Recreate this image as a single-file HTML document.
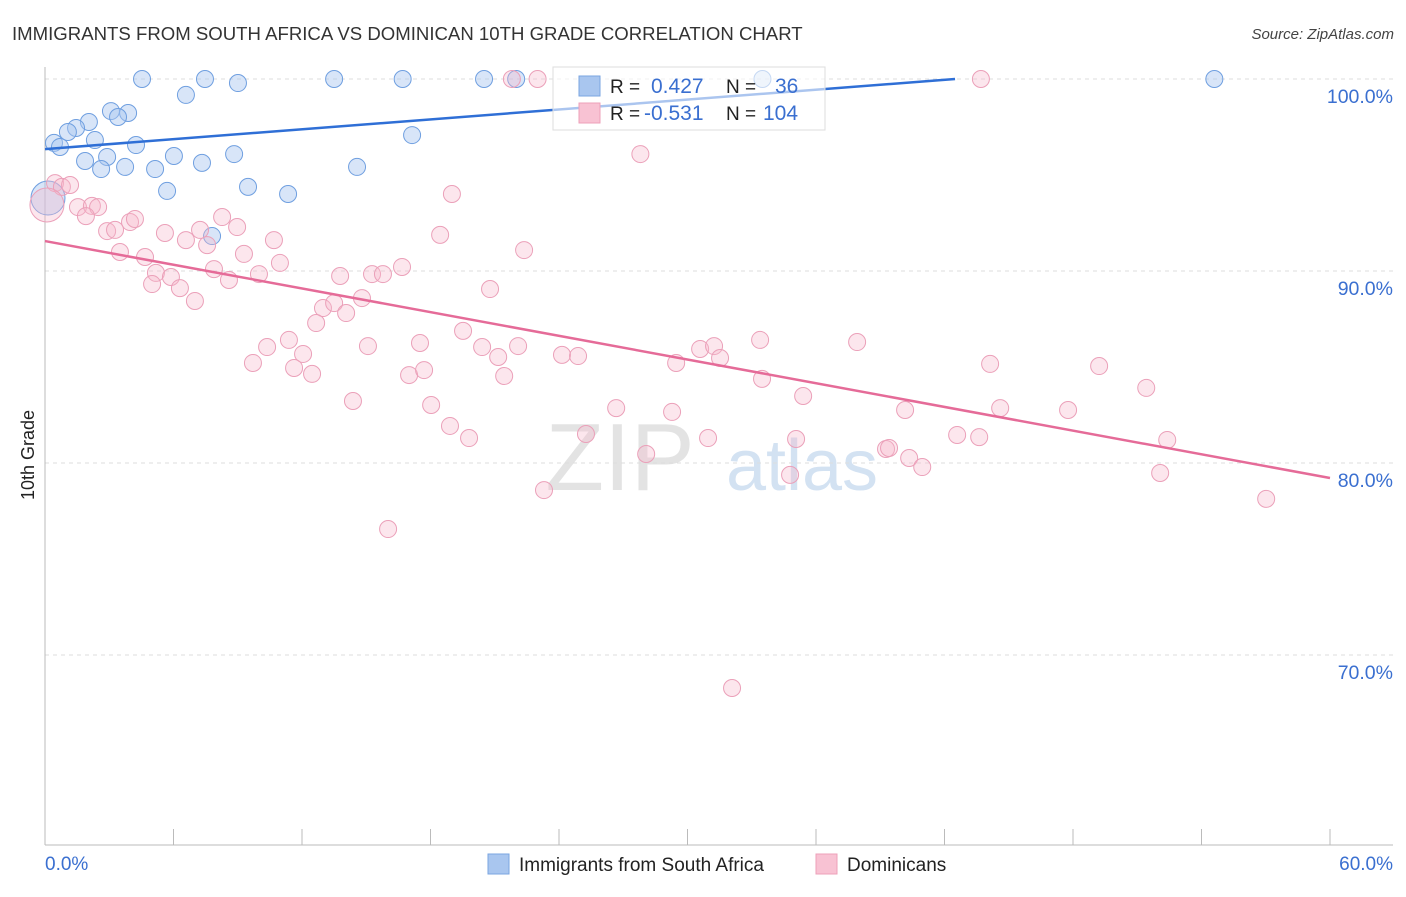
<!DOCTYPE html>
<html><head><meta charset="utf-8"><style>
body{margin:0;background:#fff;font-family:"Liberation Sans",sans-serif;}
svg text{font-family:"Liberation Sans",sans-serif;}
</style></head><body>
<svg id="chart" width="1406" height="892">
<text x="12" y="40" font-size="18.6" fill="#333">IMMIGRANTS FROM SOUTH AFRICA VS DOMINICAN 10TH GRADE CORRELATION CHART</text>
<text x="1394" y="39" font-size="15" fill="#444" font-style="italic" text-anchor="end">Source: ZipAtlas.com</text>
<text x="620" y="490" font-size="96" fill="#ddd" font-family="Liberation Serif" text-anchor="middle" opacity="0.8">ZIP</text>
<text x="802" y="490" font-size="72" fill="#c9dbf0" text-anchor="middle" opacity="0.8">atlas</text>
<g id="grid"></g><g id="axes"></g><g id="pts"></g><g id="lines"></g>
<g>
<rect x="553" y="67" width="272" height="63" fill="#fff" fill-opacity="0.6" stroke="#ddd"/>
<rect x="579" y="76" width="21" height="20" fill="#a9c6ef" stroke="#7aa5e0"/>
<rect x="579" y="103" width="21" height="20" fill="#f8c2d3" stroke="#eea0ba"/>
<text x="610" y="93" font-size="19" fill="#222">R = </text><text x="651" y="93" font-size="21" fill="#3a6fd0">0.427</text>
<text x="726" y="93" font-size="19" fill="#222">N = </text><text x="775" y="93" font-size="21" fill="#3a6fd0">36</text>
<text x="610" y="120" font-size="19" fill="#222">R = </text><text x="644" y="120" font-size="21" fill="#3a6fd0">-0.531</text>
<text x="726" y="120" font-size="19" fill="#222">N = </text><text x="763" y="120" font-size="21" fill="#3a6fd0">104</text>
</g>
<text transform="translate(34,455) rotate(-90)" font-size="18" fill="#222" text-anchor="middle">10th Grade</text>
<text x="45" y="870" font-size="19" fill="#3a6fd0">0.0%</text>
<text x="1393" y="870" font-size="19" fill="#3a6fd0" text-anchor="end">60.0%</text>
<g>
<rect x="488" y="854" width="21" height="20" fill="#a9c6ef" stroke="#7aa5e0"/>
<text x="519" y="871" font-size="19" fill="#222">Immigrants from South Africa</text>
<rect x="816" y="854" width="21" height="20" fill="#f8c2d3" stroke="#eea0ba"/>
<text x="847" y="871" font-size="19" fill="#222">Dominicans</text>
</g>
</svg>
<script>
const yTicks=[100,90,80,70];
const xTicks=[0,6,12,18,24,30,36,42,48,54,60];
const blueX=[4.53,7.47,9.01,13.5,16.7,20.5,22.0,33.5,54.6,6.58,3.08,3.88,3.41,2.05,1.45,1.07,0.42,0.70,2.33,4.25,6.02,8.83,1.87,2.90,7.33,2.62,3.74,5.14,14.57,17.14,5.70,9.48,11.35,7.80,0.14];
const blueY=[100,100,99.79,100,100,100,100,100,100,99.17,98.33,98.23,98.02,97.76,97.45,97.24,96.67,96.46,96.82,96.56,95.99,96.09,95.73,95.94,95.63,95.31,95.42,95.31,95.42,97.08,94.17,94.38,94.01,91.82,93.80];
const pinkX=[21.8,23.0,43.7,27.8,19.0,0.47,0.79,1.17,0.09,1.54,2.19,2.48,1.91,3.97,4.20,2.90,3.27,5.60,7.24,8.27,8.97,6.58,7.57,10.69,22.37,18.45,3.50,4.67,9.29,5.18,5.88,7.89,8.59,9.99,10.97,13.78,15.27,15.78,16.67,5.00,6.30,7.00,12.98,13.50,14.06,14.80,20.78,12.66,19.52,10.37,11.39,12.05,9.71,11.63,12.47,15.08,17.51,20.41,22.09,21.16,24.14,24.89,17.00,17.70,21.44,29.47,30.59,31.24,31.52,33.39,37.92,33.48,44.13,49.22,51.42,35.40,14.38,18.03,26.67,29.28,40.16,44.60,47.77,18.91,19.80,25.26,30.96,35.07,39.27,39.41,42.59,43.62,52.40,40.35,40.96,28.07,34.79,52.07,23.30,57.02,16.02,32.08];
const pinkY=[100,100,100,96.09,94.01,94.58,94.38,94.48,93.44,93.33,93.39,93.33,92.86,92.55,92.71,92.08,92.14,91.98,92.14,92.81,92.29,91.61,91.35,91.61,91.09,91.88,90.99,90.73,90.89,89.90,89.69,90.10,89.53,89.84,90.42,89.74,89.84,89.84,90.21,89.32,89.11,88.44,88.07,88.33,87.81,88.59,89.06,87.29,86.88,86.04,86.41,85.68,85.21,84.95,84.64,86.09,86.25,86.04,86.09,85.52,85.63,85.57,84.58,84.84,84.53,85.21,85.94,86.09,85.47,86.41,86.30,84.38,85.16,85.05,83.91,83.49,83.23,83.02,82.86,82.66,82.76,82.86,82.76,81.93,81.30,81.51,81.30,81.25,80.73,80.78,81.46,81.35,81.20,80.26,79.79,80.47,79.38,79.48,78.59,78.13,76.56,68.28];
const blueTrend=[96.35,0.0859];
const pinkTrend=[91.56,-0.2057];
const NS="http://www.w3.org/2000/svg";
const X=v=>45+v*1285/60, Y=v=>79+(100-v)*19.2;
function mk(tag,attrs,parent){const e=document.createElementNS(NS,tag);for(const k in attrs)e.setAttribute(k,attrs[k]);parent.appendChild(e);return e;}
const grid=document.getElementById('grid'),axes=document.getElementById('axes'),pts=document.getElementById('pts'),lines=document.getElementById('lines');
yTicks.forEach(t=>{
 const l=mk('line',{x1:45,x2:1393,y1:Y(t),y2:Y(t),stroke:'#ddd','stroke-dasharray':'4,4'},grid);
 
 
 const tx=mk('text',{x:1393,y:Y(t)+24,'font-size':19.5,fill:'#3a6fd0','text-anchor':'end'},grid);
 tx.textContent=t.toFixed(1)+'%';
 
 
});
const ax=mk('line',{x1:45,x2:45,y1:67,y2:845,stroke:'#bbb'},axes);


const bx=mk('line',{x1:45,x2:1393,y1:845,y2:845,stroke:'#bbb'},axes);


xTicks.forEach(t=>{
 const l=mk('line',{x1:X(t),x2:X(t),y1:829,y2:845,stroke:'#bbb'},axes);
 
 
});
blueX.forEach((v,i)=>{
 const big=i===blueX.length-1;
 const c=mk('circle',{cx:X(v),cy:Y(blueY[i]),r:big?17:8.5,fill:'#a9c6ef','fill-opacity':0.45,stroke:'#6f9fe0','stroke-width':1},pts);
 
 
});
pinkX.forEach((v,i)=>{
 const big=i===8;
 const c=mk('circle',{cx:X(v),cy:Y(pinkY[i]),r:big?17:8.5,fill:'#f6b6cb','fill-opacity':0.35,stroke:'#eba0b9','stroke-width':1},pts);
 
 
});
const bEnd=Math.min(60,(100-blueTrend[0])/blueTrend[1]);
const bl=mk('line',{x1:X(0),y1:Y(blueTrend[0]),x2:X(bEnd),y2:Y(blueTrend[0]+blueTrend[1]*bEnd),stroke:'#2f6fd6','stroke-width':2.5},lines);


const pl=mk('line',{x1:X(0),y1:Y(pinkTrend[0]),x2:X(60),y2:Y(pinkTrend[0]+pinkTrend[1]*60),stroke:'#e56b98','stroke-width':2.5},lines);


</script>
</body></html>
